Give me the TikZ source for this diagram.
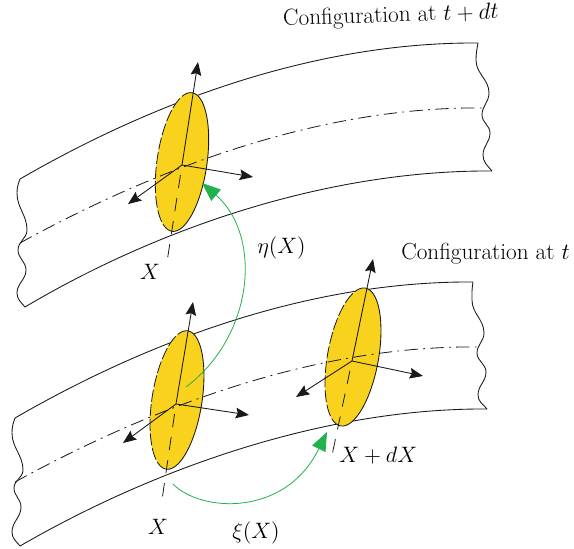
\RequirePackage{fix-cm}
\documentclass[tikz,border=0pt]{standalone}
\usetikzlibrary{arrows.meta}
\definecolor{discyellow}{HTML}{F9D21E}
\definecolor{flowgreen}{HTML}{22B14C}
\tikzset{
  edgeline/.style={black!90,line width=0.65pt,line join=round},
  centerline/.style={black!90,line width=0.6pt,dash pattern=on 10pt off 4pt on 1.4pt off 4pt},
  axisline/.style={black!90,line width=0.65pt,-{Stealth[length=10pt,width=8pt,inset=1.5pt]}},
  hiddenaxis/.style={black!90,line width=0.6pt,dash pattern=on 10pt off 7.5pt,dash phase=10pt},
  flow/.style={flowgreen,line width=0.6pt,-{Triangle[length=14pt,width=11pt]}},
  lab/.style={inner sep=0pt,font=\fontsize{16.7}{20}\selectfont},
  conf/.style={inner sep=0pt,font=\fontsize{17.4}{20}\selectfont},
  wv/.style={out=-90,in=90}
}
\newcommand{\discshape}[4]{%
  \begin{scope}[shift={(#1,#2)},rotate=#3]
    \fill[discyellow] plot[domain=0:360,samples=90] ({#4*cos(\x)},{70*sin(\x)}) -- cycle;
    \draw[edgeline] plot[domain=-90:90,samples=50] ({#4*cos(\x)},{70*sin(\x)});
    \draw[edgeline,line width=0.6pt,dash pattern=on 9pt off 2pt] plot[domain=90:270,samples=50] ({#4*cos(\x)},{70*sin(\x)});
  \end{scope}}
\begin{document}
\begin{tikzpicture}[x=0.75pt,y=-0.75pt]
\useasboundingbox (0,0) rectangle (574,549);
% named coordinates
\coordinate (oA) at (182,165);
\coordinate (uA) at (198,62);
\coordinate (rA) at (253,177);
\coordinate (lA) at (128,204);
\coordinate (dA) at (167,262);
\coordinate (oB) at (176,404);
\coordinate (uB) at (193,302);
\coordinate (rB) at (249,415);
\coordinate (lB) at (123,443);
\coordinate (dB) at (162,500);
\coordinate (oC) at (352,361);
\coordinate (uC) at (373,259);
\coordinate (rC) at (423,376);
\coordinate (lC) at (296,397);
\coordinate (dC) at (331,460);
% upper band
\draw[edgeline] (20,179) .. controls (160,98) and (320,42) .. (478,43);
\draw[edgeline] (25,307) .. controls (165,224) and (334,170) .. (492,171);
\draw[edgeline] (20,179) to[out=-110,in=90] (17,193) to[wv] (27,230) to[wv] (18,250) to[wv] (26,270) to[wv] (17,293) to[out=-90,in=130] (25,307);
\draw[edgeline] (478,43) to[out=-100,in=90] (476,60) to[wv] (489,93) to[wv] (482,115) to[wv] (490,133) to[wv] (483,155) to[out=-90,in=130] (492,171);
% lower band
\draw[edgeline] (15,418) .. controls (155,337) and (315,281) .. (473,282);
\draw[edgeline] (20,546) .. controls (160,465) and (330,408) .. (487,409);
\draw[edgeline] (15,418) to[out=-110,in=90] (12,433) to[wv] (23,470) to[wv] (14,488) to[wv] (21,507) to[wv] (12,532) to[out=-90,in=130] (20,546);
\draw[edgeline] (473,282) to[out=-100,in=90] (472,300) to[wv] (484,333) to[wv] (477,353) to[wv] (486,372) to[wv] (478,395) to[out=-90,in=130] (487,409);
% discs
\discshape{182}{162}{-8.2}{25}
\discshape{177}{400}{-8.9}{25}
\discshape{353}{357}{-10.2}{25.5}
% centre lines
\draw[centerline] (20,243) .. controls (162,165) and (325,106) .. (484,108);
\draw[centerline] (15,482) .. controls (157,404) and (320,345) .. (479,347);
% axes
\foreach \o/\u/\r/\l/\d in {oA/uA/rA/lA/dA,oB/uB/rB/lB/dB,oC/uC/rC/lC/dC}{
  \draw[axisline] (\o) -- (\u);
  \draw[axisline] (\o) -- (\r);
  \draw[axisline] (\o) -- (\l);
  \draw[hiddenaxis] (\o) -- (\d);
}
% green flows
\coordinate (etaS) at (186,387);
\coordinate (etaE) at (202,183);
\coordinate (xiS) at (173,484);
\coordinate (xiE) at (327,432);
\draw[flow] (etaS) .. controls (255,335) and (262,235) .. (etaE);
\draw[flow] (xiS) .. controls (200,512) and (285,518) .. (xiE);
% labels
\node[conf,anchor=west,rotate=1.9] (c1) at (283,20) {Configuration at $t+dt$};
\node[conf,anchor=west] (c2) at (401,254) {Configuration at $t$};
\node[lab] (x1) at (150,272) {$X$};
\node[lab] (x2) at (158,527) {$X$};
\node[lab,anchor=west] (eta) at (257,248) {$\eta(X)$};
\node[lab] (xi) at (256,533) {$\xi(X)$};
\node[lab,anchor=west] (xdx) at (339,456) {$X+dX$};
\end{tikzpicture}
\end{document}
